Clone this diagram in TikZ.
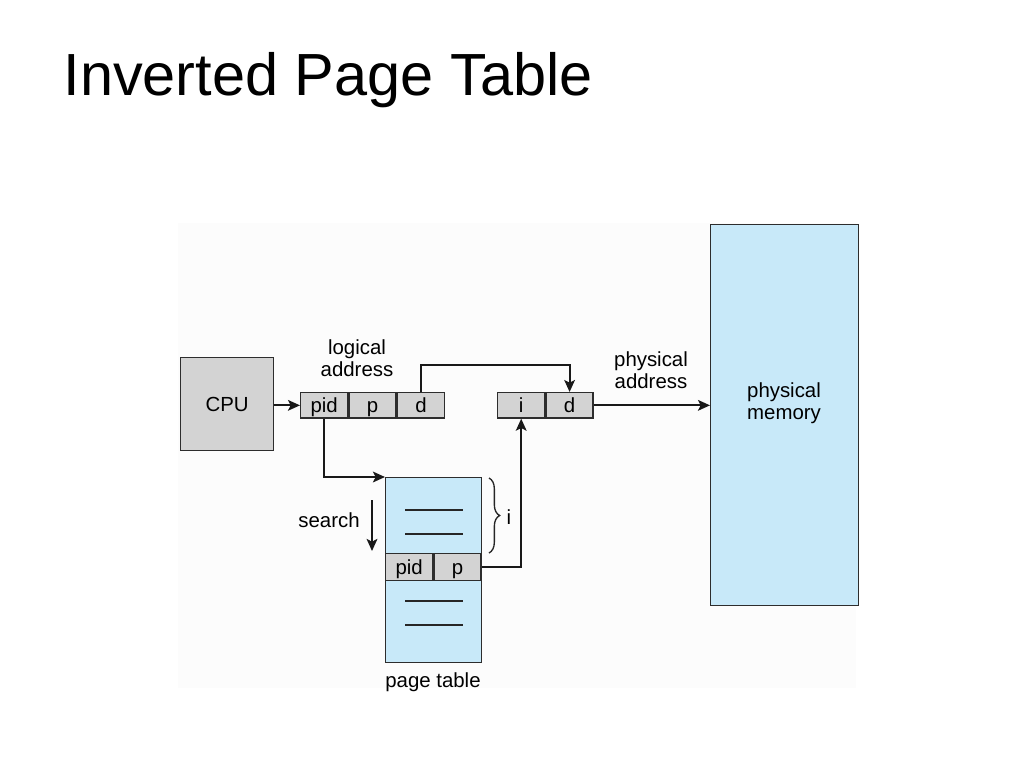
\documentclass[tikz,border=0pt]{standalone}
\usepackage{fontspec}
\setmainfont{Liberation Sans}
\usetikzlibrary{arrows.meta,positioning,decorations.pathreplacing}

\definecolor{cellgray}{RGB}{211,211,211}
\definecolor{memblue}{RGB}{200,233,249}
\definecolor{edgegray}{RGB}{45,45,45}
\definecolor{backgray}{RGB}{252,252,252}

\tikzset{every picture/.style={line width=0.75pt}}
\tikzset{
  lbl/.style={inner sep=0pt, align=center, font=\fontsize{15.3}{16.5}\selectfont},
  cell/.style={draw=edgegray, fill=cellgray, line width=1pt, inner sep=0pt,
    minimum width=35.3pt, minimum height=19pt, text height=12pt, text depth=1.5pt,
    font=\fontsize{15.3}{16.5}\selectfont},
  ptcell/.style={cell, minimum height=20.3pt},
  bluebox/.style={draw=edgegray, fill=memblue, line width=1pt, inner sep=0pt},
  arr/.style={draw=black!90, line width=1.6pt, -{Stealth[length=9pt,width=8pt,inset=2pt]}},
  entryline/.style={draw=black!85, line width=1pt},
  brc/.style={draw=black!85, line width=1pt, decoration={brace,amplitude=8pt}, decorate}
}

\begin{document}
\begin{tikzpicture}[x=0.75pt,y=0.75pt,yscale=-1,xscale=1]
	\useasboundingbox (0,0) rectangle (1024,768);
	%Shape: Rectangle (background of the figure)
	\fill [backgray] (178,223) rectangle (856,688);

	% Text Node (title)
	\node [anchor=base west, inner sep=0pt, font=\fontsize{44.6}{50}\selectfont] (title) at (63,95) {Inverted Page Table};

	%Shape: CPU
	\node [cell, anchor=north west, minimum width=69.75pt, minimum height=69.75pt, text height=, text depth=] (cpu) at (180,357) {CPU};

	%Shape: logical address cells
	\node [cell, anchor=north west] (lapid) at (300,392) {pid};
	\node [cell, right=0pt of lapid] (lap) {p};
	\node [cell, right=0pt of lap] (lad) {d};

	%Shape: physical address cells
	\node [cell, anchor=north west] (pai) at (497,392) {i};
	\node [cell, right=0pt of pai] (pad) {d};

	%Shape: physical memory
	\node [bluebox, anchor=north west, minimum width=111pt, minimum height=285.75pt] (mem) at (710,224) {};

	%Shape: page table
	\node [bluebox, anchor=north west, minimum width=72pt, minimum height=138.75pt] (pt) at (385,477) {};
	\node [ptcell, anchor=north west] (ptpid) at (385,553) {pid};
	\node [ptcell, right=0pt of ptpid] (ptp) {p};
	%Straight Lines (entries)
	\foreach \y in {510,534,601,625}
		\draw [entryline] (405,\y) -- (463,\y);

	%Straight Lines (connectors)
	\draw [arr] (cpu.east |- lapid.west) -- (lapid.west);
	\draw [arr] (lad.north) -- ++(0,-27) -| (pad.north);
	\draw [arr] (pad.east) -- (pad.east -| mem.west);
	\draw [arr] (lapid.south) |- (pt.north west);
	\draw [arr] (ptp.east) -| (pai.south);

	% search direction
	\coordinate (searchtop) at (372,500);
	\coordinate (searchend) at (372,551);
	\draw [arr] (searchtop) -- (searchend);

	%Shape: Brace
	\coordinate (bracetop) at (489,478);
	\coordinate (bracebot) at (489,553);
	\draw [brc] (bracetop) -- (bracebot);

	% Text Node
	\node [lbl] (logaddr) at (357,358) {logical\\address};
	% Text Node
	\node [lbl] (phyaddr) at (651,370) {physical\\address};
	% Text Node
	\node [lbl] (memtext) at (784,403) {physical\\memory};
	% Text Node
	\node [lbl] (search) at (329,520) {search};
	% Text Node
	\node [lbl] (idx) at (509,517) {i};
	% Text Node
	\node [lbl] (pttext) at (433,682) {page table};

\end{tikzpicture}
\end{document}
